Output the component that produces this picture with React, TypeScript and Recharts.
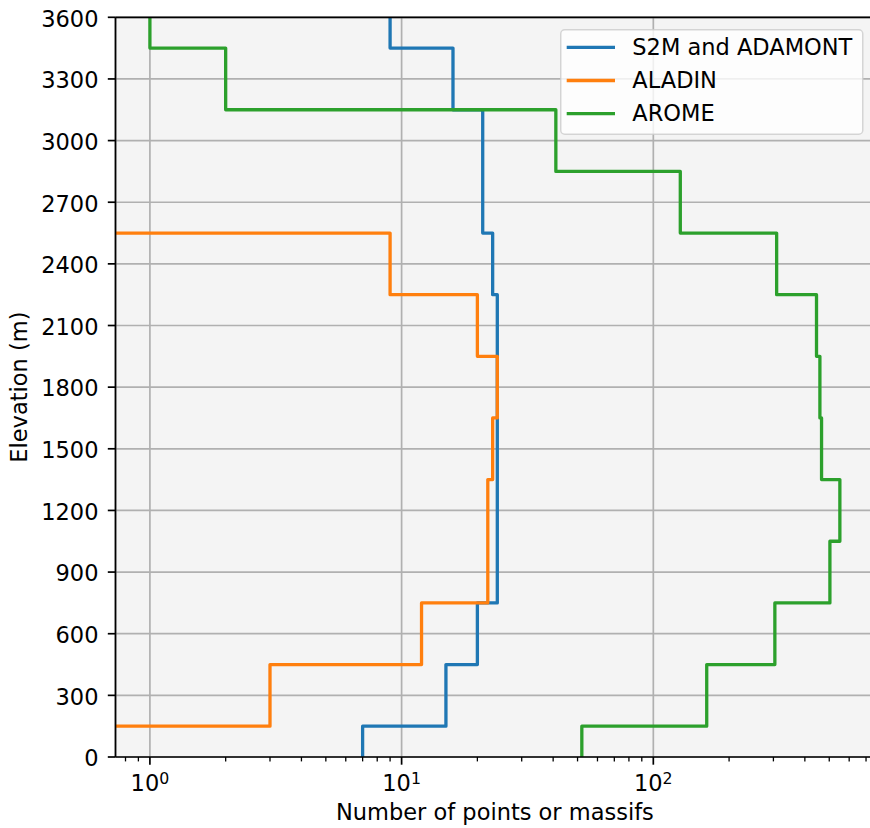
import React from 'react';
import { LineChart, Line, XAxis, YAxis, CartesianGrid, Legend, ReferenceLine } from 'recharts';

// ---- data ----
const elevations = [0, 300, 600, 900, 1200, 1500, 1800, 2100, 2400, 2700, 3000, 3300, 3600];
const s2mCounts = [7, 15, 20, 24, 24, 24, 24, 24, 23, 21, 21, 16, 9];
const aladinCounts = [0, 3, 12, 22, 22, 23, 24, 20, 9, 0, 0, 0, 0];
const aromeCounts = [52, 163, 304, 503, 551, 466, 459, 445, 309, 128, 41, 2, 1];
const seriesNames = ['S2M and ADAMONT', 'ALADIN', 'AROME'];
const seriesColors = ['#1f77b4', '#ff7f0e', '#2ca02c'];
const yTicks = [0, 300, 600, 900, 1200, 1500, 1800, 2100, 2400, 2700, 3000, 3300, 3600];
const xMajorTicks = [1, 10, 100];
const xMajorExponents = ['0', '1', '2'];
const xMinorTicks = [0.8, 0.9, 2, 3, 4, 5, 6, 7, 8, 9, 20, 30, 40, 50, 60, 70, 80, 90, 200, 300, 400, 500, 600, 700];
const xDomain = [0.73, 755];
const yDomain = [0, 3600];

const FONT = '"DejaVu Sans", sans-serif';
const FS = 22.5;
const AXH = 0.01;
const PLOT_BOTTOM = 757;

// build step-profile points (vertical at constant count over each elevation band)
function toSteps(values: number[]) {
  const half = (elevations[1] - elevations[0]) / 2;
  const pts: { n: number; elev: number }[] = [];
  values.forEach((v, i) => {
    const lo = Math.max(elevations[i] - half, yDomain[0]);
    const hi = Math.min(elevations[i] + half, yDomain[1]);
    // zero counts cannot be shown on a log axis: push them outside the plot (clipped)
    const n = v > 0 ? v : xDomain[0] / 10;
    pts.push({ n, elev: lo }, { n, elev: hi });
  });
  return pts;
}

const s2mSteps = toSteps(s2mCounts);
const aladinSteps = toSteps(aladinCounts);
const aromeSteps = toSteps(aromeCounts);

const renderXTick = (props: any) => {
  const { x, payload } = props;
  const idx = xMajorTicks.indexOf(payload.value);
  return (
    <text x={x} y={PLOT_BOTTOM + 33.6} textAnchor="middle" fontFamily={FONT} fontSize={FS} fill="#000">
      <tspan>10</tspan>
      <tspan dy={-6.9} fontSize={FS * 0.7}>{xMajorExponents[idx]}</tspan>
    </text>
  );
};

const renderEmpty = () => <g />;

const renderYTick = (props: any) => {
  const { x, y, payload } = props;
  return (
    <text x={x} y={y + 9.3} textAnchor="end" fontFamily={FONT} fontSize={FS} fill="#000">
      {payload.value}
    </text>
  );
};

const renderYLabel = (props: any) => {
  const vb = props.viewBox;
  const cy = vb.y + vb.height / 2;
  const lx = 27.5;
  return (
    <text x={lx} y={cy} transform={`rotate(-90, ${lx}, ${cy})`} textAnchor="middle" fontFamily={FONT} fontSize={FS} fill="#000">
      Elevation (m)
    </text>
  );
};

const renderXLabel = (props: any) => {
  const vb = props.viewBox;
  return (
    <text x={vb.x + vb.width / 2} y={PLOT_BOTTOM + 63} textAnchor="middle" fontFamily={FONT} fontSize={FS} fill="#000">
      Number of points or massifs
    </text>
  );
};

const renderLegend = (props: any) => {
  const raw = props.payload && props.payload.length ? props.payload : seriesNames.map((n, i) => ({ value: n, color: seriesColors[i] }));
  const payload = [...raw].sort((a: any, b: any) => seriesNames.indexOf(a.value) - seriesNames.indexOf(b.value));
  return (
    <svg width={304} height={106} style={{ display: 'block' }}>
      <rect x={0.75} y={0.75} width={302} height={104.5} rx={4} ry={4} fill="#ffffff" fillOpacity={0.8} stroke="#cccccc" strokeOpacity={0.8} strokeWidth={1.5} />
      {payload.map((p: any, i: number) => {
        const cy = 18.4 + i * 33.1;
        return (
          <g key={p.value}>
            <line x1={6.7} x2={55} y1={cy} y2={cy} stroke={p.color} strokeWidth={3.3} />
            <text x={72.3} y={cy + 7.5} fontFamily={FONT} fontSize={FS} fill="#000">{p.value}</text>
          </g>
        );
      })}
    </svg>
  );
};

export default function App() {
  const axisStroke = { stroke: '#000', strokeWidth: 1.7 };
  return (
    <div style={{ position: 'absolute', left: 0, top: 0, width: 870, height: 828, overflow: 'hidden', background: '#fff', fontFamily: FONT }}>
      <LineChart width={880} height={828} margin={{ top: 17.3, right: 5.7, bottom: 828 - PLOT_BOTTOM - 2 * AXH, left: 0 }}>
        <CartesianGrid fill="#f4f4f4" stroke="#b0b0b0" strokeWidth={1.7} strokeOpacity={1} />
        <Line data={s2mSteps} dataKey="elev" name={seriesNames[0]} stroke={seriesColors[0]} strokeWidth={3.3} dot={false} activeDot={false} type="linear" strokeLinejoin="round" isAnimationActive={false} />
        <Line data={aladinSteps} dataKey="elev" name={seriesNames[1]} stroke={seriesColors[1]} strokeWidth={3.3} dot={false} activeDot={false} type="linear" strokeLinejoin="round" isAnimationActive={false} />
        <Line data={aromeSteps} dataKey="elev" name={seriesNames[2]} stroke={seriesColors[2]} strokeWidth={3.3} dot={false} activeDot={false} type="linear" strokeLinejoin="round" isAnimationActive={false} />
        <ReferenceLine y={yDomain[1]} stroke="#000" strokeWidth={1.7} />
        <XAxis
          dataKey="n"
          type="number"
          scale="log"
          domain={xDomain}
          allowDataOverflow
          ticks={xMajorTicks}
          interval={0}
          height={AXH}
          tickSize={7.7}
          axisLine={axisStroke}
          tickLine={axisStroke}
          tick={renderXTick}
          label={{ content: renderXLabel }}
        />
        <XAxis
          xAxisId="minor"
          dataKey="n"
          type="number"
          scale="log"
          domain={xDomain}
          allowDataOverflow
          ticks={xMinorTicks}
          interval={0}
          height={AXH}
          tickSize={4.4}
          axisLine={false}
          tickLine={{ stroke: '#000', strokeWidth: 1.3 }}
          tick={renderEmpty}
        />
        <YAxis
          dataKey="elev"
          type="number"
          domain={yDomain}
          ticks={yTicks}
          interval={0}
          width={115.5}
          tickSize={7.7}
          tickMargin={9.3}
          axisLine={axisStroke}
          tickLine={axisStroke}
          tick={renderYTick}
          label={{ content: renderYLabel }}
        />
        <Legend layout="vertical" align="center" verticalAlign="middle" wrapperStyle={{ left: 560, top: 29.3, width: 304, height: 106 }} content={renderLegend} />
      </LineChart>
    </div>
  );
}
